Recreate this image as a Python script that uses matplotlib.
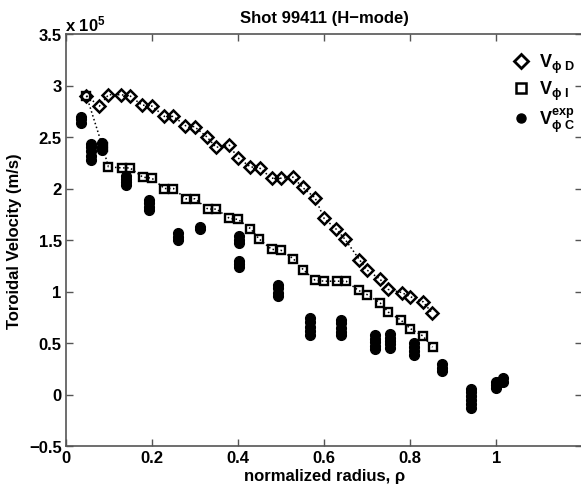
import matplotlib
matplotlib.use("Agg")
import matplotlib.pyplot as plt
from matplotlib.lines import Line2D

plt.rcParams['font.family'] = ['Liberation Sans', 'DejaVu Sans']
plt.rcParams['font.weight'] = 'bold'
plt.rcParams['mathtext.fontset'] = 'custom'
plt.rcParams['mathtext.rm'] = 'Liberation Sans'
plt.rcParams['mathtext.it'] = 'Liberation Sans'
plt.rcParams['mathtext.bf'] = 'Liberation Sans:bold'

# V_phi D (diamonds), units of 1e5 m/s
rho_D = [0.048, 0.078, 0.099, 0.128, 0.149, 0.177, 0.200, 0.229, 0.250, 0.278,
         0.299, 0.328, 0.349, 0.380, 0.399, 0.429, 0.450, 0.478, 0.500, 0.528,
         0.550, 0.579, 0.600, 0.627, 0.648, 0.682, 0.699, 0.730, 0.749, 0.780,
         0.800, 0.830, 0.851]
v_D = [2.90, 2.80, 2.91, 2.91, 2.90, 2.81, 2.80, 2.70, 2.70, 2.61,
       2.60, 2.50, 2.40, 2.42, 2.30, 2.21, 2.20, 2.10, 2.10, 2.11,
       2.01, 1.91, 1.71, 1.61, 1.51, 1.31, 1.21, 1.12, 1.02, 0.99,
       0.95, 0.90, 0.79]

# V_phi I (squares)
rho_I = [0.048, 0.086, 0.099, 0.130, 0.149, 0.179, 0.200, 0.229, 0.250, 0.279,
         0.300, 0.330, 0.350, 0.380, 0.400, 0.429, 0.449, 0.478, 0.500, 0.528,
         0.552, 0.579, 0.600, 0.629, 0.651, 0.680, 0.700, 0.730, 0.749, 0.779,
         0.800, 0.829, 0.852]
v_I = [2.90, 2.40, 2.21, 2.20, 2.20, 2.11, 2.10, 2.00, 2.00, 1.90,
       1.90, 1.80, 1.80, 1.71, 1.70, 1.61, 1.51, 1.41, 1.40, 1.32,
       1.21, 1.11, 1.10, 1.10, 1.10, 1.01, 0.97, 0.89, 0.80, 0.72,
       0.64, 0.57, 0.46]

# V_phi C experimental (filled dots), stacks of measurements per radius
rho_C = [0.035, 0.058, 0.083, 0.140, 0.194, 0.260, 0.312, 0.402, 0.492,
         0.567, 0.639, 0.718, 0.753, 0.809, 0.875, 0.941, 1.000, 1.015]
v_C = [[2.64, 2.67, 2.69],
       [2.28, 2.32, 2.36, 2.40, 2.43],
       [2.37, 2.40, 2.44],
       [2.03, 2.06, 2.09, 2.12],
       [1.79, 1.82, 1.86, 1.89],
       [1.50, 1.53, 1.57],
       [1.61, 1.63],
       [1.47, 1.50, 1.54, 1.24, 1.27, 1.30],
       [0.96, 0.99, 1.03, 1.06],
       [0.58, 0.62, 0.66, 0.70, 0.74],
       [0.58, 0.61, 0.65, 0.69, 0.72],
       [0.44, 0.47, 0.51, 0.54, 0.58],
       [0.45, 0.49, 0.52, 0.55, 0.59],
       [0.38, 0.42, 0.46, 0.50],
       [0.23, 0.26, 0.30],
       [-0.13, -0.09, -0.05, -0.01, 0.02, 0.05],
       [0.06, 0.09, 0.12],
       [0.12, 0.16]]

xticks = [0, 0.2, 0.4, 0.6, 0.8, 1]
xticklabels = ['0', '0.2', '0.4', '0.6', '0.8', '1']
yticks = [-0.5, 0, 0.5, 1, 1.5, 2, 2.5, 3, 3.5]
yticklabels = ['\u22120.5', '0', '0.5', '1', '1.5', '2', '2.5', '3', '3.5']

fig = plt.figure(figsize=(5.81, 4.89), dpi=100)
ax = fig.add_axes([65.8/581, 42/489, (582.4-65.8)/581, (447-35)/489])

ax.plot(rho_D, v_D, linestyle=':', color='black', lw=1.1, marker='D', ms=6.3,
        mfc='none', mec='black', mew=1.8, zorder=3)
ax.plot(rho_I, v_I, linestyle=':', color='black', lw=1.1, marker='s', ms=5.8,
        mfc='none', mec='black', mew=1.7, zorder=3)

cx = []
cy = []
for r, vals in zip(rho_C, v_C):
    for v in vals:
        cx.append(r)
        cy.append(v)
ax.plot(cx, cy, linestyle='none', marker='o', ms=7, mfc='black', mec='black', zorder=4)

ax.set_xlim(0, 1.2)
ax.set_ylim(-0.5, 3.5)
ax.set_xticks(xticks)
ax.set_xticklabels(xticklabels, fontsize=12, fontweight='bold')
ax.set_yticks(yticks)
ax.set_yticklabels(yticklabels, fontsize=12, fontweight='bold')
ax.tick_params(direction='in', top=True, right=True, length=5, width=1,
               color='#555555', pad=3)
for s in ax.spines.values():
    s.set_color('#555555')
    s.set_linewidth(1.2)

ax.set_xlabel('normalized radius, \u03c1', fontsize=12, fontweight='bold', labelpad=2)
ax.set_ylabel('Toroidal Velocity (m/s)', fontsize=12, fontweight='bold', labelpad=5)
ax.set_title('Shot 99411 (H\u2212mode)', fontsize=12, fontweight='bold', pad=9)
fig.text(65/581, 1 - 24/489, r'x 10$^{\mathbf{5}}$', fontsize=12, fontweight='bold',
         va='center', ha='left')

handles = [
    Line2D([], [], linestyle='none', marker='D', ms=7, mfc='none', mec='black', mew=2.0),
    Line2D([], [], linestyle='none', marker='s', ms=6.5, mfc='none', mec='black', mew=1.8),
    Line2D([], [], linestyle='none', marker='o', ms=6.5, mfc='black', mec='black'),
]
labels = [r'$\mathbf{V}_{\phi\ \mathbf{D}}$',
          r'$\mathbf{V}_{\phi\ \mathbf{I}}$',
          r'$\mathbf{V}_{\phi\ \mathbf{C}}^{\mathbf{exp}}$']
fig.legend(handles, labels, loc='upper left', bbox_to_anchor=(503/581, 1 - 44/489),
           frameon=False, fontsize=13, handlelength=1.0, handletextpad=0.5,
           labelspacing=0.2, borderpad=0)

fig.savefig('out.png', dpi=100)
